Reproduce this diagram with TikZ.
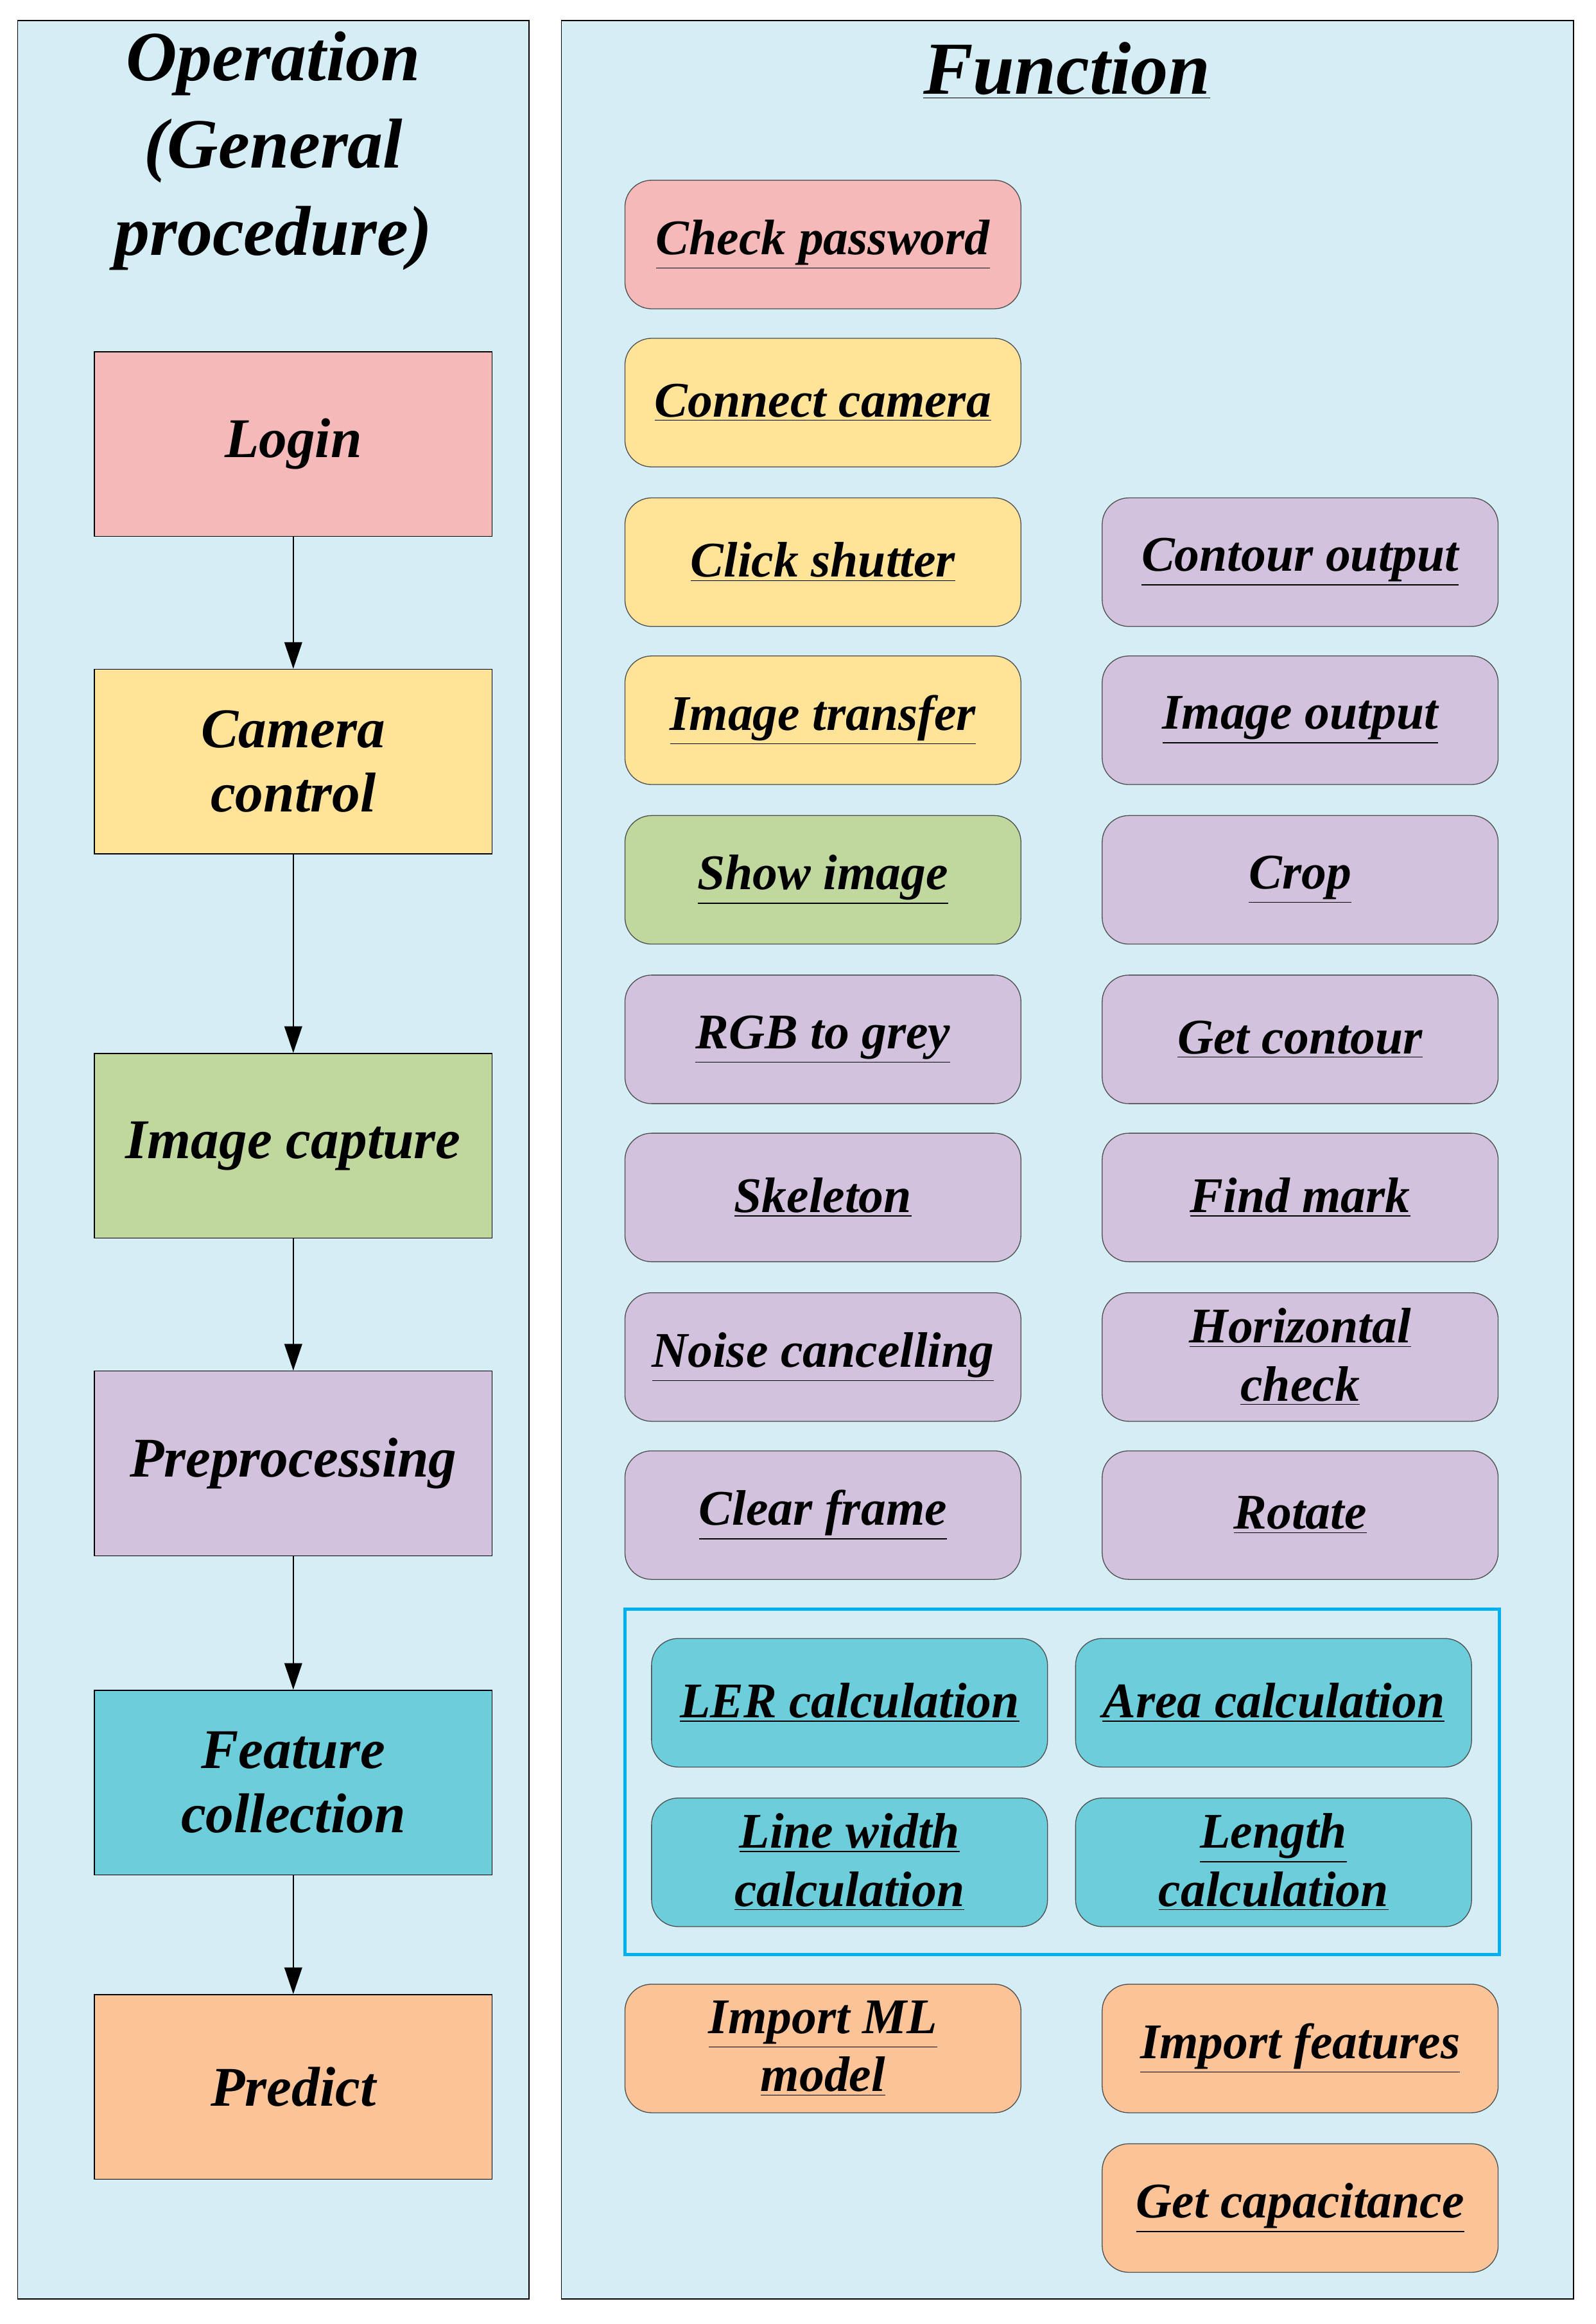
\documentclass[tikz,border=0pt]{standalone}
\usepackage{fontspec}
\setmainfont{Liberation Serif}
\usetikzlibrary{arrows.meta}
\pgfdeclarelayer{bg}
\pgfsetlayers{bg,main}
\definecolor{panel}{HTML}{D5EDF4}
\definecolor{cpink}{HTML}{F4B9B8}
\definecolor{cyel}{HTML}{FFE399}
\definecolor{cgreen}{HTML}{C0D79E}
\definecolor{cpurp}{HTML}{D2C2DD}
\definecolor{ccyan}{HTML}{6CCDDB}
\definecolor{corange}{HTML}{FBC398}
\definecolor{cframe}{HTML}{00B0F0}
\newcommand{\ul}[1]{\underline{#1}}
\begin{document}
\begin{tikzpicture}[x=0.25mm,y=-0.25mm,
  every node/.style={font=\fontsize{24}{28}\selectfont\bfseries\itshape, align=center, inner sep=0pt},
  lbox/.style={draw=black, line width=0.5pt, minimum width=67.25mm, minimum height=31.25mm, font=\fontsize{27}{31}\selectfont\bfseries\itshape},
  rbox/.style={draw=black!70, line width=0.4pt, rounded corners=4.5mm, minimum width=67mm, minimum height=21.75mm},
  wire/.style={line width=0.6pt},
  dotw/.style={wire, -{Circle[length=2.2mm]}},
  arr/.style={line width=0.6pt, -{Triangle[length=4.5mm,width=3mm]}}]
\useasboundingbox (0,0) rectangle (1080,1573);
\fill[white] (0,0) rectangle (1080,1573);
% panels
\draw[fill=panel, line width=0.5pt] (12,14) rectangle (358,1556);
\draw[fill=panel, line width=0.5pt] (380,14) rectangle (1065,1556);
\node[font=\fontsize{34}{42}\selectfont\bfseries\itshape] (t1) at (185,102) {Operation\\(General\\procedure)};
\node[font=\fontsize{36}{40}\selectfont\bfseries\itshape] (t2) at (722,48) {\ul{Function}};
% left boxes
\node[lbox, fill=cpink] (login) at (198.5,300.5) {Login};
\node[lbox, fill=cyel] (cam) at (198.5,515.5) {Camera\\control};
\node[lbox, fill=cgreen] (imc) at (198.5,775.5) {Image capture};
\node[lbox, fill=cpurp] (pre) at (198.5,990.5) {Preprocessing};
\node[lbox, fill=ccyan] (fc) at (198.5,1206.5) {Feature\\collection};
\node[lbox, fill=corange] (pr) at (198.5,1412.5) {Predict};
% column 1
\node[rbox, fill=cpink] (cp) at (557,165.5) {\ul{Check password}};
\node[rbox, fill=cyel] (cc) at (557,272.5) {\ul{Connect camera}};
\node[rbox, fill=cyel] (cs) at (557,380.5) {\ul{Click shutter}};
\node[rbox, fill=cyel] (it) at (557,487.5) {\ul{Image transfer}};
\node[rbox, fill=cgreen] (si) at (557,595.5) {\ul{Show image}};
\node[rbox, fill=cpurp] (rgb) at (557,703.5) {\ul{RGB to grey}};
\node[rbox, fill=cpurp] (sk) at (557,810.5) {\ul{Skeleton}};
\node[rbox, fill=cpurp] (nc) at (557,918.5) {\ul{Noise cancelling}};
\node[rbox, fill=cpurp] (cf) at (557,1025.5) {\ul{Clear frame}};
% column 2
\node[rbox, fill=cpurp] (co) at (880,380.5) {\ul{Contour output}};
\node[rbox, fill=cpurp] (io) at (880,487.5) {\ul{Image output}};
\node[rbox, fill=cpurp] (crop) at (880,595.5) {\ul{Crop}};
\node[rbox, fill=cpurp] (gct) at (880,703.5) {\ul{Get contour}};
\node[rbox, fill=cpurp] (fm) at (880,810.5) {\ul{Find mark}};
\node[rbox, fill=cpurp] (hc) at (880,918.5) {\ul{Horizontal}\\\ul{check}};
\node[rbox, fill=cpurp] (rot) at (880,1025.5) {\ul{Rotate}};
% feature frame
\node[draw=cframe, line width=1.6pt, minimum width=148mm, minimum height=58.5mm] (frame) at (719,1206) {};
\node[rbox, fill=ccyan] (ler) at (575,1152.5) {\ul{LER calculation}};
\node[rbox, fill=ccyan] (area) at (862,1152.5) {\ul{Area calculation}};
\node[rbox, fill=ccyan] (lw) at (575,1260.5) {\ul{Line width}\\\ul{calculation}};
\node[rbox, fill=ccyan] (len) at (862,1260.5) {\ul{Length}\\\ul{calculation}};
% predict
\node[rbox, fill=corange] (iml) at (557,1386.5) {\ul{Import ML}\\\ul{model}};
\node[rbox, fill=corange] (ifeat) at (880,1386.5) {\ul{Import features}};
\node[rbox, fill=corange] (gcap) at (880,1494.5) {\ul{Get capacitance}};
% left flow arrows
\draw[arr] (login) -- (cam);
\draw[arr] (cam) -- (imc);
\draw[arr] (imc) -- (pre);
\draw[arr] (pre) -- (fc);
\draw[arr] (fc) -- (pr);
\begin{pgfonlayer}{bg}
\draw[dotw] (login.north -| 315,0) |- (cp.west);
\draw[dotw] (cam.east) -- (cam.east -| 397,0) |- (cc.west);
\draw[dotw] (imc.north -| 265,0) |- (si.west);
\draw[dotw] (pre.north -| 265,0) |- (397,874) |- (rgb.west);
\draw[wire] (fc.east) -- (frame.west);
\draw[wire] (pr.east) -- (iml.west);
\draw[wire] (iml.east) -- (ifeat.west);
\draw[wire] (ifeat.south) -- (gcap.north);
% camera group
\draw[wire] (cc.east) -| (728,380.5) -- (cs.east);
\draw[wire] ([yshift=-2mm]cs.east) -| (728,487.5) -- (it.east);
% right bus
\draw[wire] (co.east) -| (1042,558) -- (1000,558);
\draw[wire] (io.east) -- (io.east -| 1042,0);
\draw[wire] (crop.east) -| (1042,1025.5) -- (rot.east);
\draw[wire] (hc.east) -- (hc.east -| 1042,0);
\draw[wire] (hc.south) -- (rot.north);
% left bus of column 2
\draw[wire] (co.west) -- (738,380.5) -- (738,1076) -| (cf.south);
% hops
\draw[wire] (crop.west) -- (742,595.5) arc[start angle=0,end angle=180,radius=1mm] -- (718,595.5) -- (718,666) -- (734,666) arc[start angle=180,end angle=0,radius=1mm] -- (750,666);
\draw[wire] (rgb.east) -- (734,703.5) arc[start angle=180,end angle=0,radius=1mm] -- (gct.west);
\draw[wire] (715,703.5) -- (715,773) -- (688,773);
\draw[wire] (728,703.5) -- (728,773) -- (734,773) arc[start angle=180,end angle=0,radius=1mm] -- (750,773);
\draw[wire] (fm.west) -- (742,810.5) arc[start angle=0,end angle=180,radius=1mm] -- (728,810.5) -- (728,918.5) -- (734,918.5) arc[start angle=180,end angle=0,radius=1mm] -- (hc.west);
\draw[wire] (sk.east) -| (711,1025.5) -- (cf.east);
\draw[wire] (nc.east) -- (711,918.5);
\end{pgfonlayer}
\end{tikzpicture}
\end{document}
